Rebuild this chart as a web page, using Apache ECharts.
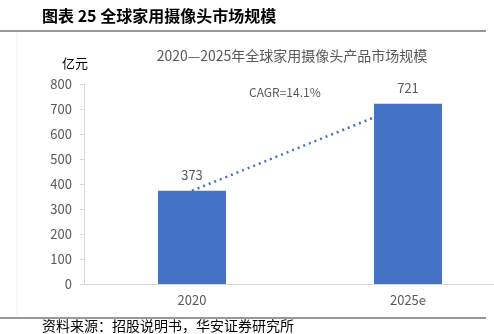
<!DOCTYPE html>
<html><head><meta charset="utf-8">
<script src="https://cdn.jsdelivr.net/npm/echarts@6/dist/echarts.min.js"></script>
<style>html,body{margin:0;padding:0;background:#fff}#c{width:494px;height:334px}</style>
</head><body><div id="c"></div>
<script>
const categories = ['2020', '2025e'];
const values = [373, 721];
const yTicks = [0, 100, 200, 300, 400, 500, 600, 700, 800];
const cagrText = 'CAGR=14.1%';

const chart = echarts.init(document.getElementById('c'));
const F = '"Noto Sans CJK SC", "Noto Sans", sans-serif';
chart.setOption({
  animation: false,
  textStyle: { fontFamily: F },
  title: {
    text: '2020—2025年全球家用摄像头产品市场规模',
    left: 287, top: 44, textAlign: 'center',
    textStyle: { fontSize: 14, fontWeight: 'normal', color: '#595959', fontFamily: F }
  },
  grid: { left: 84, width: 432, top: 84, height: 200, outerBoundsMode: 'none', containLabel: false },
  xAxis: {
    type: 'category', data: categories,
    axisLine: { lineStyle: { color: '#d9d9d9', width: 1 } },
    axisTick: { show: false },
    axisLabel: { color: '#595959', fontSize: 13, margin: 10 }
  },
  yAxis: {
    type: 'value', min: 0, max: 800, interval: 100,
    name: '亿元', nameLocation: 'end', nameGap: 14,
    nameTextStyle: { color: '#000', fontSize: 13, align: 'right', padding: [0, -4, 0, 0] },
    axisLine: { show: true, lineStyle: { color: '#d9d9d9' } },
    axisTick: { show: true, length: 4, lineStyle: { color: '#d9d9d9' } },
    splitLine: { show: false },
    axisLabel: { color: '#595959', fontSize: 13, margin: 12 }
  },
  series: [
    {
      type: 'bar', data: values, barWidth: 68, z: 3,
      itemStyle: { color: '#4472C4' },
      label: { show: true, position: 'top', distance: 9, color: '#595959', fontSize: 13 }
    },
    {
      type: 'line', data: values, symbol: 'none', z: 1,
      lineStyle: { type: [2, 4], width: 2.5, color: '#4472C4' }
    }
  ],
  graphic: [
    { type: 'text', left: 42, top: 8, style: { text: '图表 25 全球家用摄像头市场规模', font: 'bold 16px ' + F, fill: '#000' } },
    { type: 'line', shape: { x1: 0, y1: 31, x2: 486, y2: 31 }, style: { stroke: '#333', lineWidth: 1 } },
    { type: 'line', shape: { x1: 17, y1: 32, x2: 17, y2: 317 }, style: { stroke: '#eeeeee', lineWidth: 1 } },
    { type: 'line', shape: { x1: 0, y1: 318, x2: 486, y2: 318 }, style: { stroke: '#333', lineWidth: 1 } },
    { type: 'text', left: 42, top: 319, style: { text: '资料来源：招股说明书，华安证券研究所', font: '14px ' + F, fill: '#000' } },
    { type: 'text', left: 249, top: 86, style: { text: cagrText, font: '12px ' + F, fill: '#595959' } }
  ]
});
</script></body></html>
